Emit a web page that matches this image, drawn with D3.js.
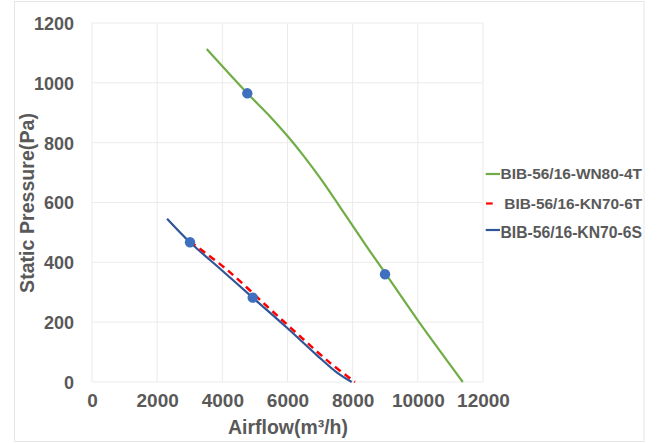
<!DOCTYPE html>
<html><head><meta charset="utf-8">
<script src="https://cdn.jsdelivr.net/npm/d3@7"></script>
<style>body{margin:0;background:#fff}svg{display:block}</style>
</head><body>
<script>
const seriesNames = ["BIB-56/16-WN80-4T","BIB-56/16-KN70-6T","BIB-56/16-KN70-6S"];
const wn80Flow = [3520,4767,5400,6000,6500,7000,7817,8500,9000,10000,11380];
const wn80Pres = [1113,965,895,822,755,682,552,442,364,206,0];
const kn6tFlow = [3008,4134,5362,6384,7305,8072];
const kn6tPres = [470,376,254,153,64,0];
const kn6sFlow = [2304,3008,4000,4932,5975,6896,7510,7970];
const kn6sPres = [546,467,372,282,182,90,32,0];
const dotFlow = [4767,8993,3008,4932];
const dotPres = [965,360,467,282];
const xTicks = [0,2000,4000,6000,8000,10000,12000];
const yTicks = [0,200,400,600,800,1000,1200];
const colors = ["#70AD47","#FF0000","#2F5597"];

const W=659,H=443;
const svg=d3.select("body").append("svg").attr("width",W).attr("height",H);
svg.append("rect").attr("x",14.5).attr("y",1.5).attr("width",629.5).attr("height",440)
  .attr("fill","#fff").attr("stroke","#E6E6E6");
const x=d3.scaleLinear().domain([0,12000]).range([92,483]);
const y=d3.scaleLinear().domain([0,1200]).range([382,23]);
const g=svg.append("g");
g.selectAll(".gx").data(xTicks).join("line").attr("x1",d=>x(d)).attr("x2",d=>x(d))
  .attr("y1",y(0)).attr("y2",y(1200)).attr("stroke","#EBEBEB");
g.selectAll(".gy").data(yTicks).join("line").attr("y1",d=>y(d)).attr("y2",d=>y(d))
  .attr("x1",x(0)).attr("x2",x(12000)).attr("stroke","#EBEBEB");
const ff="font-family:'Liberation Sans',Arial,sans-serif;font-weight:bold;";
const fitText=(sel,target,base)=>{const w=sel.node().getComputedTextLength();sel.attr("style",ff+"font-size:"+(base*target/w).toFixed(2)+"px");};

const xa=svg.append("g").attr("transform",`translate(0,${y(0)})`)
  .call(d3.axisBottom(x).tickValues(xTicks).tickSize(0).tickPadding(0).tickFormat(d3.format("d")));
xa.select(".domain").remove();
xa.selectAll("text").attr("dy",null).attr("y",25).attr("style",ff+"font-size:19px").attr("fill","#595959");
const ya=svg.append("g").attr("transform",`translate(${x(0)},0)`)
  .call(d3.axisLeft(y).tickValues(yTicks).tickSize(0).tickPadding(18).tickFormat(d3.format("d")));
ya.select(".domain").remove();
ya.selectAll("text").attr("dy","0.36em").attr("style",ff+"font-size:18px").attr("fill","#595959");

const xt=svg.append("text").attr("x",288).attr("y",434).attr("text-anchor","middle").attr("style",ff+"font-size:17px").attr("fill","#595959").text("Airflow(m³/h)");
fitText(xt,120,17);
const yt=svg.append("text").attr("transform","translate(34,203) rotate(-90)").attr("text-anchor","middle").attr("style",ff+"font-size:17px").attr("fill","#595959").text("Static Pressure(Pa)");
fitText(yt,180,17);

const line=d3.line().x(d=>x(d[0])).y(d=>y(d[1])).curve(d3.curveCatmullRom.alpha(0.5));
const series=[d3.zip(wn80Flow,wn80Pres),d3.zip(kn6tFlow,kn6tPres),d3.zip(kn6sFlow,kn6sPres)];
[0,2,1].forEach(i=>{
  svg.append("path").datum(series[i]).attr("d",line).attr("fill","none")
    .attr("stroke",colors[i]).attr("stroke-width",i===1?2.5:2.2)
    .attr("stroke-dasharray",i===1?"7,5":null);
});
svg.selectAll(".dot").data(d3.zip(dotFlow,dotPres)).join("circle")
  .attr("cx",d=>x(d[0])).attr("cy",d=>y(d[1])).attr("r",5.2).attr("fill","#3F6FBF");

const lineY=[174,203.5,230];
const textY=[179,208.5,238.3];
const textX=[500.5,504.3,500.5];
seriesNames.forEach((n,i)=>{
  if(i===1) svg.append("line").attr("x1",486).attr("x2",492.7).attr("y1",lineY[i]).attr("y2",lineY[i]).attr("stroke",colors[i]).attr("stroke-width",2.2);
  else svg.append("line").attr("x1",485.7).attr("x2",500).attr("y1",lineY[i]).attr("y2",lineY[i]).attr("stroke",colors[i]).attr("stroke-width",2.2);
  const t=svg.append("text").attr("x",textX[i]).attr("y",textY[i]).attr("style",ff+"font-size:16px").attr("fill","#595959").text(n);
  fitText(t,i===1?138:141.5,16);
});
</script>
</body></html>
